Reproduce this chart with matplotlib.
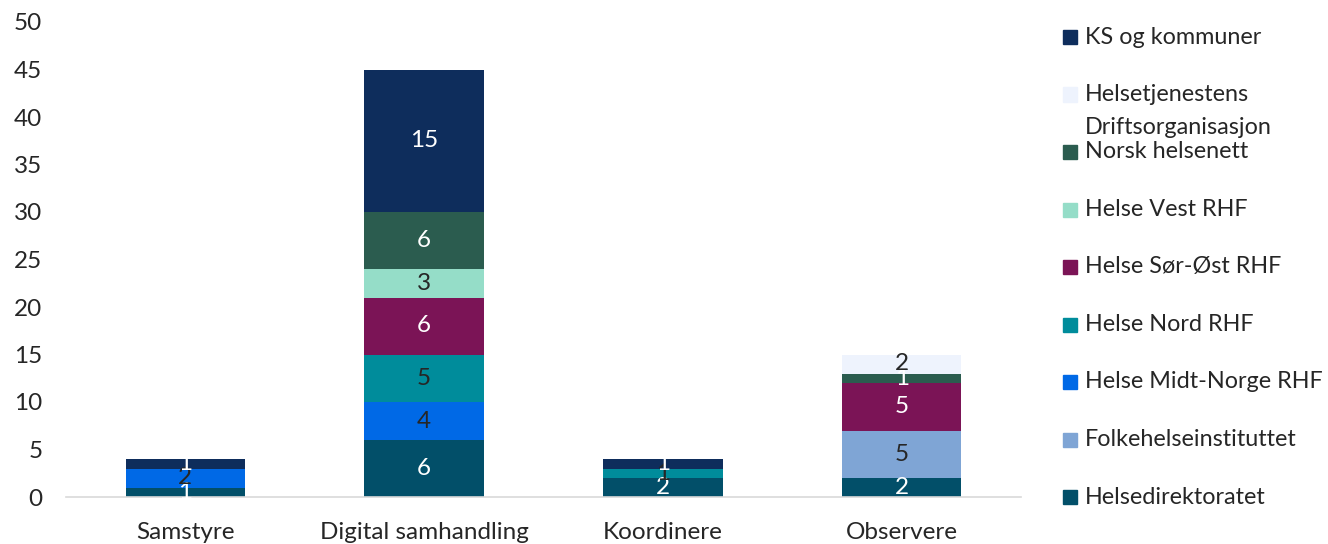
import matplotlib
matplotlib.use("Agg")
import matplotlib.pyplot as plt
from matplotlib.patches import Rectangle
import numpy as np

plt.rcParams['font.family'] = ['Lato', 'DejaVu Sans']

categories = ["Samstyre", "Digital samhandling", "Koordinere", "Observere"]
series_names = ["Helsedirektoratet", "Folkehelseinstituttet", "Helse Midt-Norge RHF",
                "Helse Nord RHF", "Helse Sør-Øst RHF", "Helse Vest RHF",
                "Norsk helsenett", "Helsetjenestens\nDriftsorganisasjon", "KS og kommuner"]
helsedirektoratet = [1, 6, 2, 2]
folkehelseinstituttet = [0, 0, 0, 5]
helse_midt = [2, 4, 0, 0]
helse_nord = [0, 5, 1, 0]
helse_sor_ost = [0, 6, 0, 5]
helse_vest = [0, 3, 0, 0]
norsk_helsenett = [0, 6, 0, 1]
hdo = [0, 0, 0, 2]
ks = [1, 15, 1, 0]
series_values = [helsedirektoratet, folkehelseinstituttet, helse_midt, helse_nord,
                 helse_sor_ost, helse_vest, norsk_helsenett, hdo, ks]
colors = ["#024F69", "#7FA5D5", "#0069E6", "#008C9B", "#7B1456", "#95DDC8",
          "#2B5C4F", "#EEF3FD", "#0E2D5C"]
label_colors = ["white", "#262626", "#262626", "#262626", "white", "#262626",
                "white", "#262626", "white"]
yticks = [0, 5, 10, 15, 20, 25, 30, 35, 40, 45, 50]

FS = 17.5
LFS = 16.8
W, H = 1328, 544
fig = plt.figure(figsize=(W / 100, H / 100), dpi=100)
ax = fig.add_axes([66 / W, (H - 497) / H, (1021 - 66) / W, (497 - 22) / H])

x = np.arange(len(categories))
bottom = np.zeros(len(categories))
for vals, col, lc in zip(series_values, colors, label_colors):
    v = np.array(vals, dtype=float)
    ax.bar(x, v, 0.5, bottom=bottom, color=col, linewidth=0)
    for xi, vi, bi in zip(x, v, bottom):
        if vi > 0:
            ax.text(xi, bi + vi / 2, f"{int(vi)}", ha='center', va='center',
                    color=lc, fontsize=FS)
    bottom += v

ax.set_xlim(-0.5, 3.5)
ax.set_ylim(0, 50)
ax.set_yticks(yticks)
ax.set_yticklabels([str(t) for t in yticks], fontsize=FS, color='#262626')
ax.set_xticks(x)
ax.set_xticklabels(categories, fontsize=FS, color='#262626')
ax.tick_params(axis='both', length=0)
ax.tick_params(axis='y', pad=17)
ax.tick_params(axis='x', pad=18)
for s in ['top', 'right', 'left']:
    ax.spines[s].set_visible(False)
ax.spines['bottom'].set_color('#D9D9D9')
ax.spines['bottom'].set_linewidth(1.2)

# Legend (top = last series)
order = list(range(len(series_names)))[::-1]
y0 = 37
step = (497 - 37) / 8
for k, idx in enumerate(order):
    yc = y0 + k * step
    fig.patches.append(Rectangle((1063 / W, (H - yc - 7) / H), 14 / W, 14 / H,
                                 transform=fig.transFigure, color=colors[idx]))
    lines = series_names[idx].split("\n")
    for j, line in enumerate(lines):
        fig.text(1085 / W, (H - yc - j * 33) / H, line, ha='left', va='center',
                 fontsize=LFS, color='#262626')

fig.savefig("out.png", dpi=100)
